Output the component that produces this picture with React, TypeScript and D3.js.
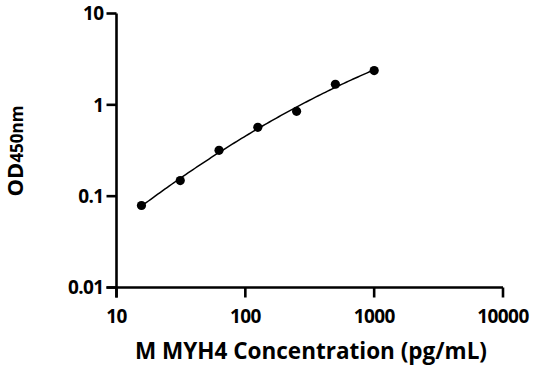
import React from "react";
import * as d3 from "d3";

const concentrations = [15.625, 31.25, 62.5, 125, 250, 500, 1000];
const odValues = [0.079, 0.148, 0.318, 0.567, 0.849, 1.68, 2.37];
const xTicks = [10, 100, 1000, 10000];
const yTicks = [0.01, 0.1, 1, 10];
const yTickLabels = ["0.01", "0.1", "1", "10"];

const W = 536, H = 371;
const M = { left: 116.5, right: 503, top: 13.5, bottom: 287.5 };
const FONT = "'Open Sans', 'Noto Sans', sans-serif";

function fitQuadratic(xs: number[], ys: number[]) {
  const n = xs.length;
  const s = [0, 0, 0, 0, 0], t = [0, 0, 0];
  for (let i = 0; i < n; i++) {
    const xv = xs[i], yv = ys[i];
    for (let k = 0; k < 5; k++) s[k] += Math.pow(xv, k);
    for (let k = 0; k < 3; k++) t[k] += yv * Math.pow(xv, k);
  }
  const A = [
    [s[0], s[1], s[2], t[0]],
    [s[1], s[2], s[3], t[1]],
    [s[2], s[3], s[4], t[2]],
  ];
  for (let i = 0; i < 3; i++) {
    for (let j = i + 1; j < 3; j++) {
      const f = A[j][i] / A[i][i];
      for (let k = i; k < 4; k++) A[j][k] -= f * A[i][k];
    }
  }
  const r = [0, 0, 0];
  for (let i = 2; i >= 0; i--) {
    let v = A[i][3];
    for (let k = i + 1; k < 3; k++) v -= A[i][k] * r[k];
    r[i] = v / A[i][i];
  }
  return (xv: number) => r[0] + r[1] * xv + r[2] * xv * xv;
}

export default function App() {
  const x = d3.scaleLog().domain([10, 10000]).range([M.left, M.right]);
  const y = d3.scaleLog().domain([0.01, 10]).range([M.bottom, M.top]);
  const lx = concentrations.map((c) => Math.log10(c));
  const ly = odValues.map((v) => Math.log10(v));
  const f = fitQuadratic(lx, ly);
  const lo = lx[0], hi = lx[lx.length - 1];
  const curvePts: [number, number][] = d3.range(0, 101).map((i) => {
    const l = lo + ((hi - lo) * i) / 100;
    return [x(Math.pow(10, l)), y(Math.pow(10, f(l)))];
  });
  const line = d3.line();
  const sw = 2.6;
  return (
    <svg width={W} height={H} style={{ position: "absolute", left: 0, top: 0, background: "#fff" }}>
      <rect width={W} height={H} fill="#fff" />
      <path d={line(curvePts) || ""} fill="none" stroke="#000" strokeWidth={1.5} />
      {concentrations.map((c, i) => (
        <circle key={i} cx={x(c)} cy={y(odValues[i])} r={4.6} fill="#000" />
      ))}
      <line x1={M.left} x2={M.left} y1={M.top} y2={M.bottom + 10} stroke="#000" strokeWidth={sw} />
      <line x1={M.left - 10} x2={M.right} y1={M.bottom} y2={M.bottom} stroke="#000" strokeWidth={sw} />
      {yTicks.map((t, i) => (
        <g key={t}>
          <line x1={M.left - 10} x2={M.left} y1={y(t)} y2={y(t)} stroke="#000" strokeWidth={sw} />
          <text x={M.left - 13} y={y(t)} dy="0.36em" textAnchor="end" fontFamily={FONT} fontWeight="bold" fontSize={19} letterSpacing={-0.6}>
            {yTickLabels[i]}
          </text>
        </g>
      ))}
      {xTicks.map((t) => (
        <g key={t}>
          <line x1={x(t)} x2={x(t)} y1={M.bottom} y2={M.bottom + 10} stroke="#000" strokeWidth={sw} />
          <text x={x(t)} y={322.7} textAnchor="middle" fontFamily={FONT} fontWeight="bold" fontSize={19} letterSpacing={-0.6}>
            {t}
          </text>
        </g>
      ))}
      <text x={311} y={359.3} textAnchor="middle" fontFamily={FONT} fontWeight="bold" fontSize={22.5}>
        M MYH4 Concentration (pg/mL)
      </text>
      <text transform="translate(23,151) rotate(-90)" textAnchor="middle" fontFamily={FONT} fontWeight="bold" fontSize={22}>
        OD<tspan fontSize={17}>450nm</tspan>
      </text>
    </svg>
  );
}
